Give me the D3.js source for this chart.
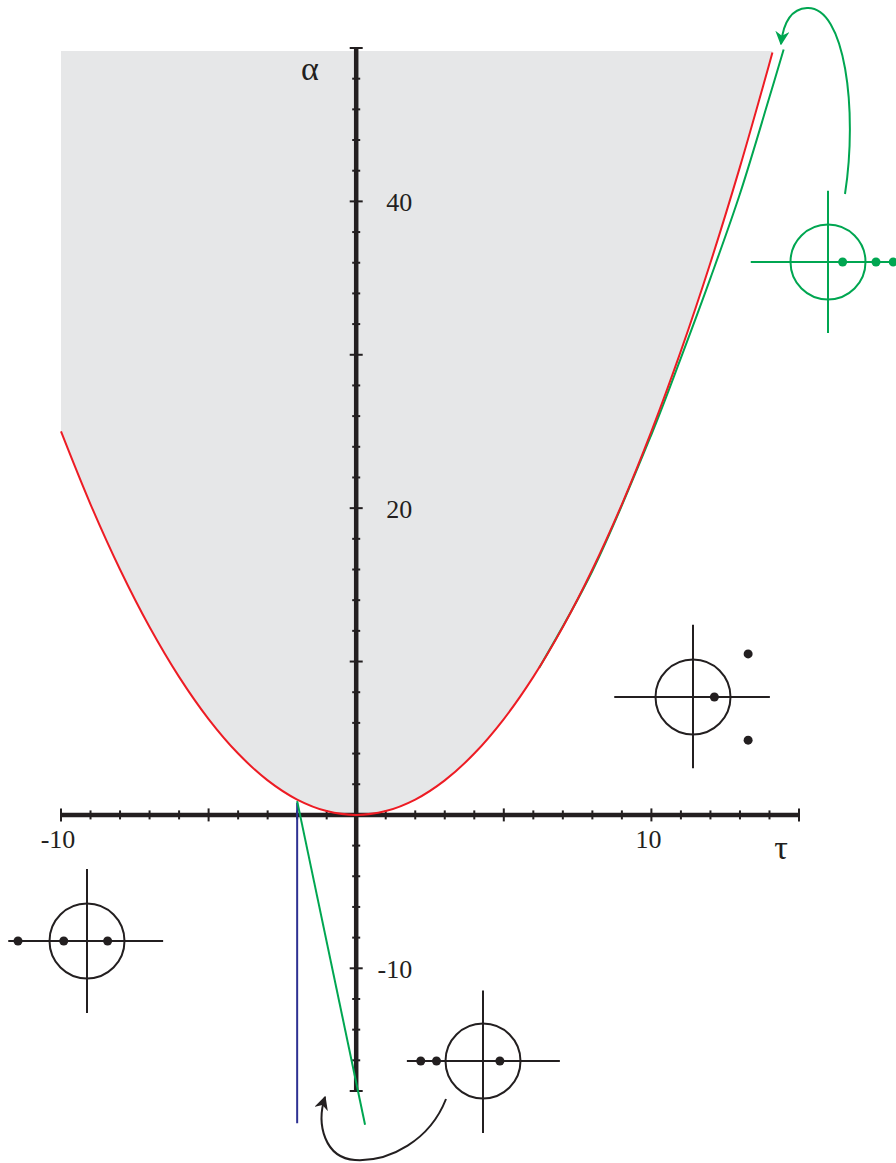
<!DOCTYPE html>
<html>
<head>
<meta charset="utf-8">
<script src="https://cdn.jsdelivr.net/npm/d3@7"></script>
<style>
  body { margin: 0; background: #fff; }
  svg { display: block; }
  text { font-family: "Liberation Serif", "DejaVu Serif", serif; fill: #231f20; }
</style>
</head>
<body>
<svg width="896" height="1163"></svg>
<script>
// boundary curve (red), read at whole tau steps
const redTau   = [-10, -9, -8, -7, -6, -5, -4, -3, -2, -1, 0, 1, 2, 3, 4, 5, 6, 7, 8, 9, 10, 11, 12, 13, 14, 14.1];
const redAlpha = [25, 20.25, 16, 12.25, 9, 6.25, 4, 2.25, 1, 0.25, 0, 0.25, 1, 2.25, 4, 6.25, 9, 12.25, 16, 20.25, 25, 30.25, 36, 42.25, 49, 49.7];

// green branch on the right
const greenTau   = [6.2, 8, 10, 11, 12, 13, 14, 14.48];
const greenAlpha = [9.6, 15.9, 24.8, 29.8, 35.0, 40.5, 46.8, 49.9];

// green line going down from tau = -2
const lowGreenTau   = [-2, 0.3];
const lowGreenAlpha = [0.9, -20.2];

// blue vertical line
const blueTau   = [-2, -2];
const blueAlpha = [0.8, -20.1];

const shadeTop = 49.8;

const xMinor = d3.range(-10, 16, 1);
const xMajor = [-10, -5, 0, 5, 10, 15];
const yMinor = d3.range(-18, 51, 2);
const yMajor = [-18, -10, 0, 10, 20, 30, 40, 50];
const xLabels = [-10, 10];
const yLabels = [40, 20, -10];

// little root diagrams: roots in units of the circle radius
const diagrams = [
  { cx: 693, cy: 697, color: "#231f20", roots: [[0.57, 0], [1.47, 1.15], [1.47, -1.15]], left: -2.1, right: 2.05, up: 1.93, down: 1.9 },
  { cx: 87,  cy: 941, color: "#231f20", roots: [[-1.84, 0], [-0.62, 0], [0.55, 0]], left: -2.1, right: 2.03, up: 1.92, down: 1.92 },
  { cx: 483, cy: 1061, color: "#231f20", roots: [[-1.66, 0], [-1.24, 0], [0.45, 0]], left: -2.03, right: 2.05, up: 1.88, down: 1.92 },
  { cx: 828, cy: 262, color: "#00a651", roots: [[0.39, 0], [1.28, 0], [1.74, 0]], left: -2.06, right: 2.5, up: 1.9, down: 1.89 }
];
const radius = 37.5;

const svg = d3.select("svg");

const x = d3.scaleLinear().domain([-10, 15]).range([61, 799]);
const y = d3.scaleLinear().domain([-18, 50]).range([1091, 48]);

const red = redTau.map((t, i) => [t, redAlpha[i]]);
const green = greenTau.map((t, i) => [t, greenAlpha[i]]);

const line = d3.line()
    .x(d => x(d[0]))
    .y(d => y(d[1]))
    .curve(d3.curveCatmullRom);

// shaded region above the curve
const area = d3.area()
    .x(d => x(d[0]))
    .y0(y(shadeTop))
    .y1(d => y(Math.min(d[1], shadeTop)))
    .curve(d3.curveCatmullRom);

svg.append("path")
    .attr("d", area(red))
    .attr("fill", "#e6e7e8");

// axes
const ax = svg.append("g").attr("stroke", "#231f20");

ax.append("line")
    .attr("x1", x(-10)).attr("x2", x(15))
    .attr("y1", y(0)).attr("y2", y(0))
    .attr("stroke-width", 4.5);

ax.append("line")
    .attr("x1", x(0)).attr("x2", x(0))
    .attr("y1", y(-18)).attr("y2", y(50))
    .attr("stroke-width", 4.5);

ax.selectAll(".xt")
    .data(xMinor)
    .enter()
    .append("line")
    .attr("x1", d => x(d)).attr("x2", d => x(d))
    .attr("y1", d => y(0) - (xMajor.includes(d) ? 6.5 : 4.5))
    .attr("y2", d => y(0) + (xMajor.includes(d) ? 6.5 : 4.5))
    .attr("stroke-width", 2);

ax.selectAll(".yt")
    .data(yMinor)
    .enter()
    .append("line")
    .attr("y1", d => y(d)).attr("y2", d => y(d))
    .attr("x1", d => x(0) - (yMajor.includes(d) ? 6.5 : 4))
    .attr("x2", d => x(0) + (yMajor.includes(d) ? 6.5 : 4))
    .attr("stroke-width", 2);

svg.selectAll(".xl")
    .data(xLabels)
    .enter()
    .append("text")
    .attr("x", d => x(d) - 3)
    .attr("y", y(0) + 33)
    .attr("text-anchor", "middle")
    .attr("font-size", 26)
    .text(d => d);

svg.selectAll(".yl")
    .data(yLabels)
    .enter()
    .append("text")
    .attr("x", x(0) + 56)
    .attr("y", d => y(d) + 10)
    .attr("text-anchor", "end")
    .attr("font-size", 26)
    .text(d => d);

svg.append("text")
    .attr("x", 781).attr("y", 859)
    .attr("text-anchor", "middle")
    .attr("font-size", 34)
    .text("τ");

svg.append("text")
    .attr("x", 310).attr("y", 80)
    .attr("text-anchor", "middle")
    .attr("font-size", 34)
    .text("α");

// curves
svg.append("path")
    .attr("d", line(green))
    .attr("fill", "none")
    .attr("stroke", "#00a651")
    .attr("stroke-width", 2);

svg.append("path")
    .attr("d", line(red))
    .attr("fill", "none")
    .attr("stroke", "#ed1c24")
    .attr("stroke-width", 2);

svg.append("path")
    .attr("d", line(blueTau.map((t, i) => [t, blueAlpha[i]])))
    .attr("fill", "none")
    .attr("stroke", "#2e3192")
    .attr("stroke-width", 2);

svg.append("path")
    .attr("d", line(lowGreenTau.map((t, i) => [t, lowGreenAlpha[i]])))
    .attr("fill", "none")
    .attr("stroke", "#00a651")
    .attr("stroke-width", 2);

// root diagrams
diagrams.forEach(function(g) {
    const u = d3.scaleLinear().domain([0, 1]).range([g.cx, g.cx + radius]);
    const v = d3.scaleLinear().domain([0, 1]).range([g.cy, g.cy - radius]);
    const grp = svg.append("g").attr("stroke", g.color).attr("fill", "none").attr("stroke-width", 2);
    grp.append("line").attr("x1", u(g.left)).attr("x2", u(g.right)).attr("y1", v(0)).attr("y2", v(0));
    grp.append("line").attr("x1", u(0)).attr("x2", u(0)).attr("y1", v(g.up)).attr("y2", v(-g.down));
    grp.append("circle").attr("cx", u(0)).attr("cy", v(0)).attr("r", radius);
    grp.selectAll(".root")
        .data(g.roots)
        .enter()
        .append("circle")
        .attr("cx", d => u(d[0]))
        .attr("cy", d => v(d[1]))
        .attr("r", 4.5)
        .attr("fill", g.color)
        .attr("stroke", "none");
});

// curved arrows
const defs = svg.append("defs");
function marker(id, color) {
    defs.append("marker")
        .attr("id", id)
        .attr("viewBox", "0 0 10 10")
        .attr("refX", 9).attr("refY", 5)
        .attr("markerWidth", 7).attr("markerHeight", 7)
        .attr("markerUnits", "strokeWidth")
        .attr("orient", "auto")
        .append("path")
        .attr("d", "M0,0 L10,5 L0,10 L3,5 Z")
        .attr("fill", color);
}
marker("ag", "#00a651");
marker("ab", "#231f20");

svg.append("path")
    .attr("d", "M845,194 C858,110 845,6 807,8 C790,9 783,25 781,44")
    .attr("fill", "none")
    .attr("stroke", "#00a651")
    .attr("stroke-width", 2)
    .attr("marker-end", "url(#ag)");

svg.append("path")
    .attr("d", "M446,1099 C430,1140 390,1162 355,1160 C325,1158 316,1125 325,1097")
    .attr("fill", "none")
    .attr("stroke", "#231f20")
    .attr("stroke-width", 2)
    .attr("marker-end", "url(#ab)");
</script>
</body>
</html>
